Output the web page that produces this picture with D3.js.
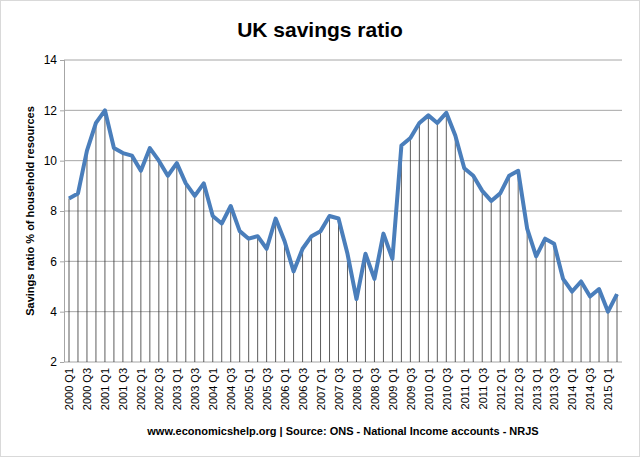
<!DOCTYPE html>
<html><head><meta charset="utf-8">
<script src="https://cdn.jsdelivr.net/npm/d3@7"></script>
<style>body{margin:0;background:#fff;font-family:"Liberation Sans",Arial,sans-serif}</style>
</head><body><div id="chart"></div>
<script>
var years = d3.range(2000, 2016);
var quarters = [];
years.forEach(function (y) {
    [1, 2, 3, 4].forEach(function (q) {
        if (y === 2015 && q > 2) return;
        quarters.push(y + " Q" + q);
    });
});
var savings = [8.5, 8.7, 10.4, 11.5, 12.0, 10.5, 10.3, 10.2, 9.6, 10.5, 10.0, 9.4,
    9.9, 9.1, 8.6, 9.1, 7.8, 7.5, 8.2, 7.2, 6.9, 7.0, 6.5, 7.7,
    6.8, 5.6, 6.5, 7.0, 7.2, 7.8, 7.7, 6.3, 4.5, 6.3, 5.3, 7.1,
    6.1, 10.6, 10.9, 11.5, 11.8, 11.5, 11.9, 11.0, 9.7, 9.4, 8.8, 8.4,
    8.7, 9.4, 9.6, 7.3, 6.2, 6.9, 6.7, 5.3, 4.8, 5.2, 4.6, 4.9, 4.0, 4.7];
var yTicks = [2, 4, 6, 8, 10, 12, 14];

var W = 640, H = 457;
var svg = d3.select("#chart").append("svg").attr("width", W).attr("height", H);
svg.append("rect").attr("x", 0.5).attr("y", 0.5).attr("width", W - 1).attr("height", H - 1)
    .style("fill", "white").style("stroke", "#d9d9d9");

var x = d3.scalePoint().domain(quarters).range([69, 617]);
var y = d3.scaleLinear().domain([2, 14]).range([362, 60]);

svg.append("g").selectAll("line").data(yTicks).enter().append("line")
    .attr("x1", 64).attr("x2", 622)
    .attr("y1", function (d) { return y(d); }).attr("y2", function (d) { return y(d); })
    .style("stroke", "#a6a6a6").style("stroke-width", 1);

svg.append("line").attr("x1", 64.5).attr("x2", 64.5).attr("y1", y(14)).attr("y2", y(2))
    .style("stroke", "#a6a6a6");

var yAxis = svg.append("g").attr("transform", "translate(64,0)")
    .call(d3.axisLeft(y).tickValues(yTicks).tickSize(4).tickFormat(d3.format("d")));
yAxis.select(".domain").remove();
yAxis.selectAll("line").style("stroke", "#a6a6a6");
yAxis.selectAll("text").style("font-size", "12px").style("fill", "#000")
    .style("font-family", "Liberation Sans, Arial, sans-serif");

// drop lines
svg.append("g").selectAll("line").data(savings).enter().append("line")
    .attr("x1", function (d, i) { return x(quarters[i]); })
    .attr("x2", function (d, i) { return x(quarters[i]); })
    .attr("y1", function (d) { return y(d); }).attr("y2", y(2))
    .style("stroke", "#333").style("stroke-width", 0.8);

var line = d3.line()
    .x(function (d, i) { return x(quarters[i]); })
    .y(function (d) { return y(d); });
svg.append("path").datum(savings).attr("d", line)
    .style("fill", "none").style("stroke", "#4a7ebb").style("stroke-width", 4)
    .style("stroke-linejoin", "round");

var xAxis = svg.append("g").attr("transform", "translate(0," + y(2) + ")")
    .call(d3.axisBottom(x).tickValues(quarters.filter(function (d, i) { return i % 2 === 0; })).tickSize(0));
xAxis.select(".domain").remove();
xAxis.selectAll("text")
    .attr("transform", "rotate(-90)").attr("x", -6).attr("y", 0).attr("dy", "0.35em")
    .style("text-anchor", "end").style("font-size", "11px").style("fill", "#000")
    .style("font-family", "Liberation Sans, Arial, sans-serif");

svg.append("text").attr("x", 320).attr("y", 37).attr("text-anchor", "middle")
    .style("font-size", "21px").style("font-weight", "bold").text("UK savings ratio");
svg.append("text").attr("transform", "translate(34,211) rotate(-90)").attr("text-anchor", "middle")
    .style("font-size", "11px").style("font-weight", "bold").text("Savings ratio % of household resources");
svg.append("text").attr("x", 343).attr("y", 435).attr("text-anchor", "middle")
    .style("font-size", "11px").style("font-weight", "bold")
    .text("www.economicshelp.org | Source: ONS - National Income accounts - NRJS");
</script></body></html>
